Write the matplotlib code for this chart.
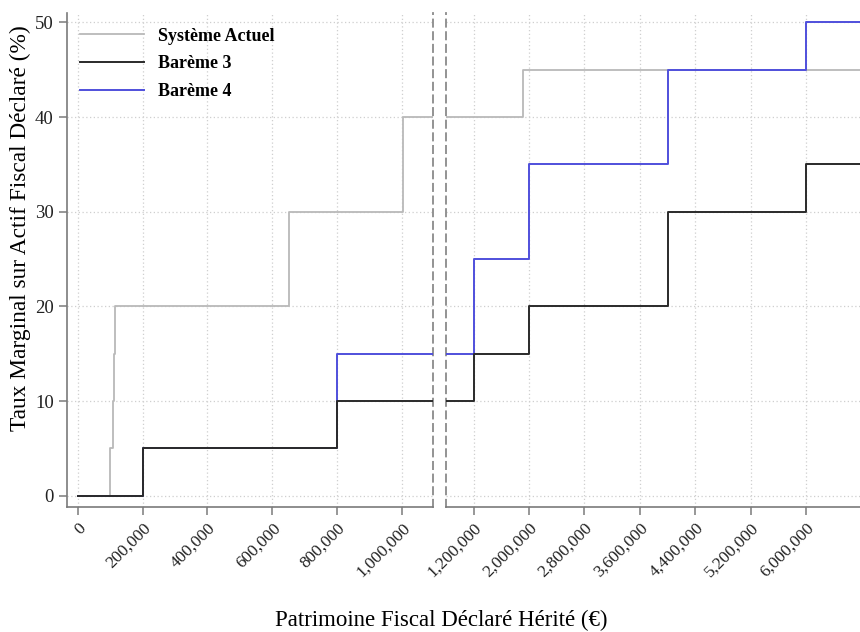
import matplotlib
matplotlib.use("Agg")
import matplotlib.pyplot as plt
from matplotlib.ticker import FuncFormatter
from matplotlib.lines import Line2D

plt.rcParams['font.family'] = ['Liberation Serif', 'DejaVu Serif']

# tranches : seuils de patrimoine (EUR) et taux marginaux (%)
actuel_seuils = [0, 100000, 108072, 112109, 115932, 652324, 1002838, 1905677, 7000000]
actuel_taux = [0, 5, 10, 15, 20, 30, 40, 45, 45]

bareme_seuils = [0, 200000, 800000, 1200000, 2000000, 4000000, 6000000, 7000000]
bareme3_taux = [0, 5, 10, 15, 20, 30, 35, 35]
bareme4_taux = [0, 5, 15, 25, 35, 45, 50, 50]

ticks_gauche = [0, 200000, 400000, 600000, 800000, 1000000]
ticks_droite = [1200000, 2000000, 2800000, 3600000, 4400000, 5200000, 6000000]
ticks_y = [0, 10, 20, 30, 40, 50]

coupure = 1100000          # rupture de l'axe horizontal
debut_droite = 800000      # debut du panneau de droite

c_actuel = '#b9b9b9'
c_b3 = '#2a2a2a'
c_b4 = '#4f4fdc'
c_axe = '#7a7a7a'


def partie_droite(seuils, taux):
    # garde les tranches qui depassent la coupure ; la premiere part du bord du panneau
    xs, ys = [], []
    for i in range(len(seuils) - 1):
        if seuils[i + 1] > coupure:
            xs.append(debut_droite if not xs else seuils[i])
            ys.append(taux[i])
    xs.append(seuils[-1])
    ys.append(taux[-1])
    return xs, ys


fig = plt.figure(figsize=(8.6, 6.32), dpi=100)
ax1 = fig.add_axes([0.0779, 0.1978, 0.4256, 0.7816])
ax2 = fig.add_axes([0.5186, 0.1978, 0.4814, 0.7816])

fmt = FuncFormatter(lambda v, p: f"{int(v):,}")

series = [(actuel_seuils, actuel_taux, c_actuel, 1.3, 2),
          (bareme_seuils, bareme4_taux, c_b4, 1.4, 3),
          (bareme_seuils, bareme3_taux, c_b3, 1.4, 4)]

for s, t, c, lw, z in series:
    ax1.step(s, t, where='post', color=c, lw=lw, zorder=z)
    xs, ys = partie_droite(s, t)
    ax2.step(xs, ys, where='post', color=c, lw=lw, zorder=z)

for ax in (ax1, ax2):
    ax.set_ylim(-1.2, 51)
    ax.set_yticks(ticks_y)
    ax.grid(True, color='#cfcfcf', linestyle=(0, (1, 2)), lw=0.9)
    ax.spines['top'].set_visible(False)
    ax.spines['right'].set_visible(False)
    ax.spines['bottom'].set_color(c_axe)
    ax.spines['bottom'].set_linewidth(1.2)
    ax.xaxis.set_major_formatter(fmt)
    ax.tick_params(axis='both', direction='out', length=6, width=1.1, color=c_axe,
                   labelsize=12.5, labelcolor='#222222')

ax1.set_xlim(-33000, 1095000)
ax1.set_xticks(ticks_gauche)
plt.setp(ax1.get_xticklabels(), rotation=45, ha='right', rotation_mode='anchor')
ax1.spines['left'].set_color(c_axe)
ax1.spines['left'].set_linewidth(1.2)
ax1.spines['right'].set_visible(True)
ax1.spines['right'].set_color('#8a8a8a')
ax1.spines['right'].set_linestyle((0, (4, 3)))
ax1.spines['right'].set_linewidth(1.3)
ax1.tick_params(axis='y', labelsize=13.5)

ax2.set_xlim(debut_droite, 6780000)
ax2.set_xticks(ticks_droite)
plt.setp(ax2.get_xticklabels(), rotation=45, ha='right', rotation_mode='anchor')
ax2.spines['left'].set_color('#8a8a8a')
ax2.spines['left'].set_linestyle((0, (4, 3)))
ax2.spines['left'].set_linewidth(1.3)
ax2.tick_params(axis='y', length=0, labelleft=False)

poignees = [Line2D([], [], color=c_actuel, lw=1.3),
            Line2D([], [], color=c_b3, lw=1.4),
            Line2D([], [], color=c_b4, lw=1.4)]
ax1.legend(poignees, ['Système Actuel', 'Barème 3', 'Barème 4'],
           loc='upper left', bbox_to_anchor=(0.0, 0.996), frameon=False,
           prop={'weight': 'bold', 'size': 13}, handlelength=3.55,
           handletextpad=0.78, labelspacing=0.6, borderaxespad=0.3)

fig.text(20 / 860, 1 - 228 / 632, 'Taux Marginal sur Actif Fiscal Déclaré (%)',
         rotation=90, ha='center', va='center', fontsize=16.8)
fig.text(441 / 860, 1 - 620 / 632, 'Patrimoine Fiscal Déclaré Hérité (€)',
         ha='center', va='center', fontsize=16.5)

fig.savefig('out.png', dpi=100)
